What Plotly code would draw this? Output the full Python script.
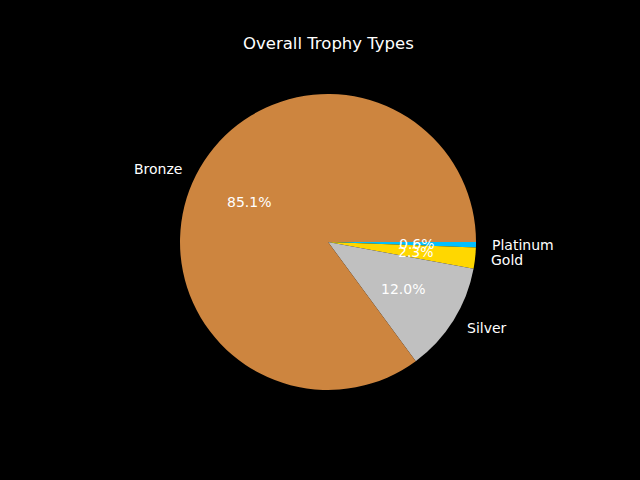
import math
import plotly.graph_objects as go

labels = ["Bronze", "Silver", "Gold", "Platinum"]
percents = [85.1, 12.0, 2.3, 0.6]
colors = ["#CD853F", "#C0C0C0", "#FFD700", "#00BFFF"]
title = "Overall Trophy Types"

W, H = 640, 480
cx, cy, r = 328, 242, 148  # pie centre (px from top-left) and radius

# Slices run counterclockwise from 3 o'clock (Bronze first); in Plotly this is
# the reversed order drawn clockwise from 3 o'clock.
fig = go.Figure(go.Pie(
    labels=labels[::-1], values=percents[::-1], sort=False,
    direction="clockwise", rotation=90,
    marker=dict(colors=colors[::-1], line=dict(width=0)),
    textinfo="none", hoverinfo="skip", showlegend=False,
    domain=dict(x=[(cx - r) / W, (cx + r) / W],
                y=[(H - cy - r) / H, (H - cy + r) / H]),
))

font = dict(family="DejaVu Sans", color="white", size=14)
total = sum(percents)
start = 0.0
annotations = []
for lab, v in zip(labels, percents):
    frac = v / total
    mid = 2 * math.pi * (start + frac / 2)
    start += frac
    c, s = math.cos(mid), math.sin(mid)
    annotations.append(dict(
        x=(cx + 1.1 * r * c) / W, y=(H - cy + 1.1 * r * s) / H,
        xref="paper", yref="paper", text=lab, showarrow=False, borderpad=0,
        xanchor="left" if c >= 0 else "right", yanchor="middle", font=font))
    annotations.append(dict(
        x=(cx + 0.6 * r * c) / W, y=(H - cy + 0.6 * r * s) / H,
        xref="paper", yref="paper", text=f"{v:.1f}%", showarrow=False, borderpad=0,
        xanchor="center", yanchor="middle", font=font))

annotations.append(dict(
    x=cx / W, y=(H - 43) / H, xref="paper", yref="paper", text=title,
    showarrow=False, xanchor="center", yanchor="middle", borderpad=0,
    font=dict(family="DejaVu Sans", color="white", size=16.5)))

fig.update_layout(
    width=W, height=H, margin=dict(l=0, r=0, t=0, b=0),
    paper_bgcolor="black", plot_bgcolor="black",
    annotations=annotations,
)
fig.write_html("out.html", config={"displayModeBar": False},
               post_script="document.body.style.margin='0';document.body.style.background='black';")
